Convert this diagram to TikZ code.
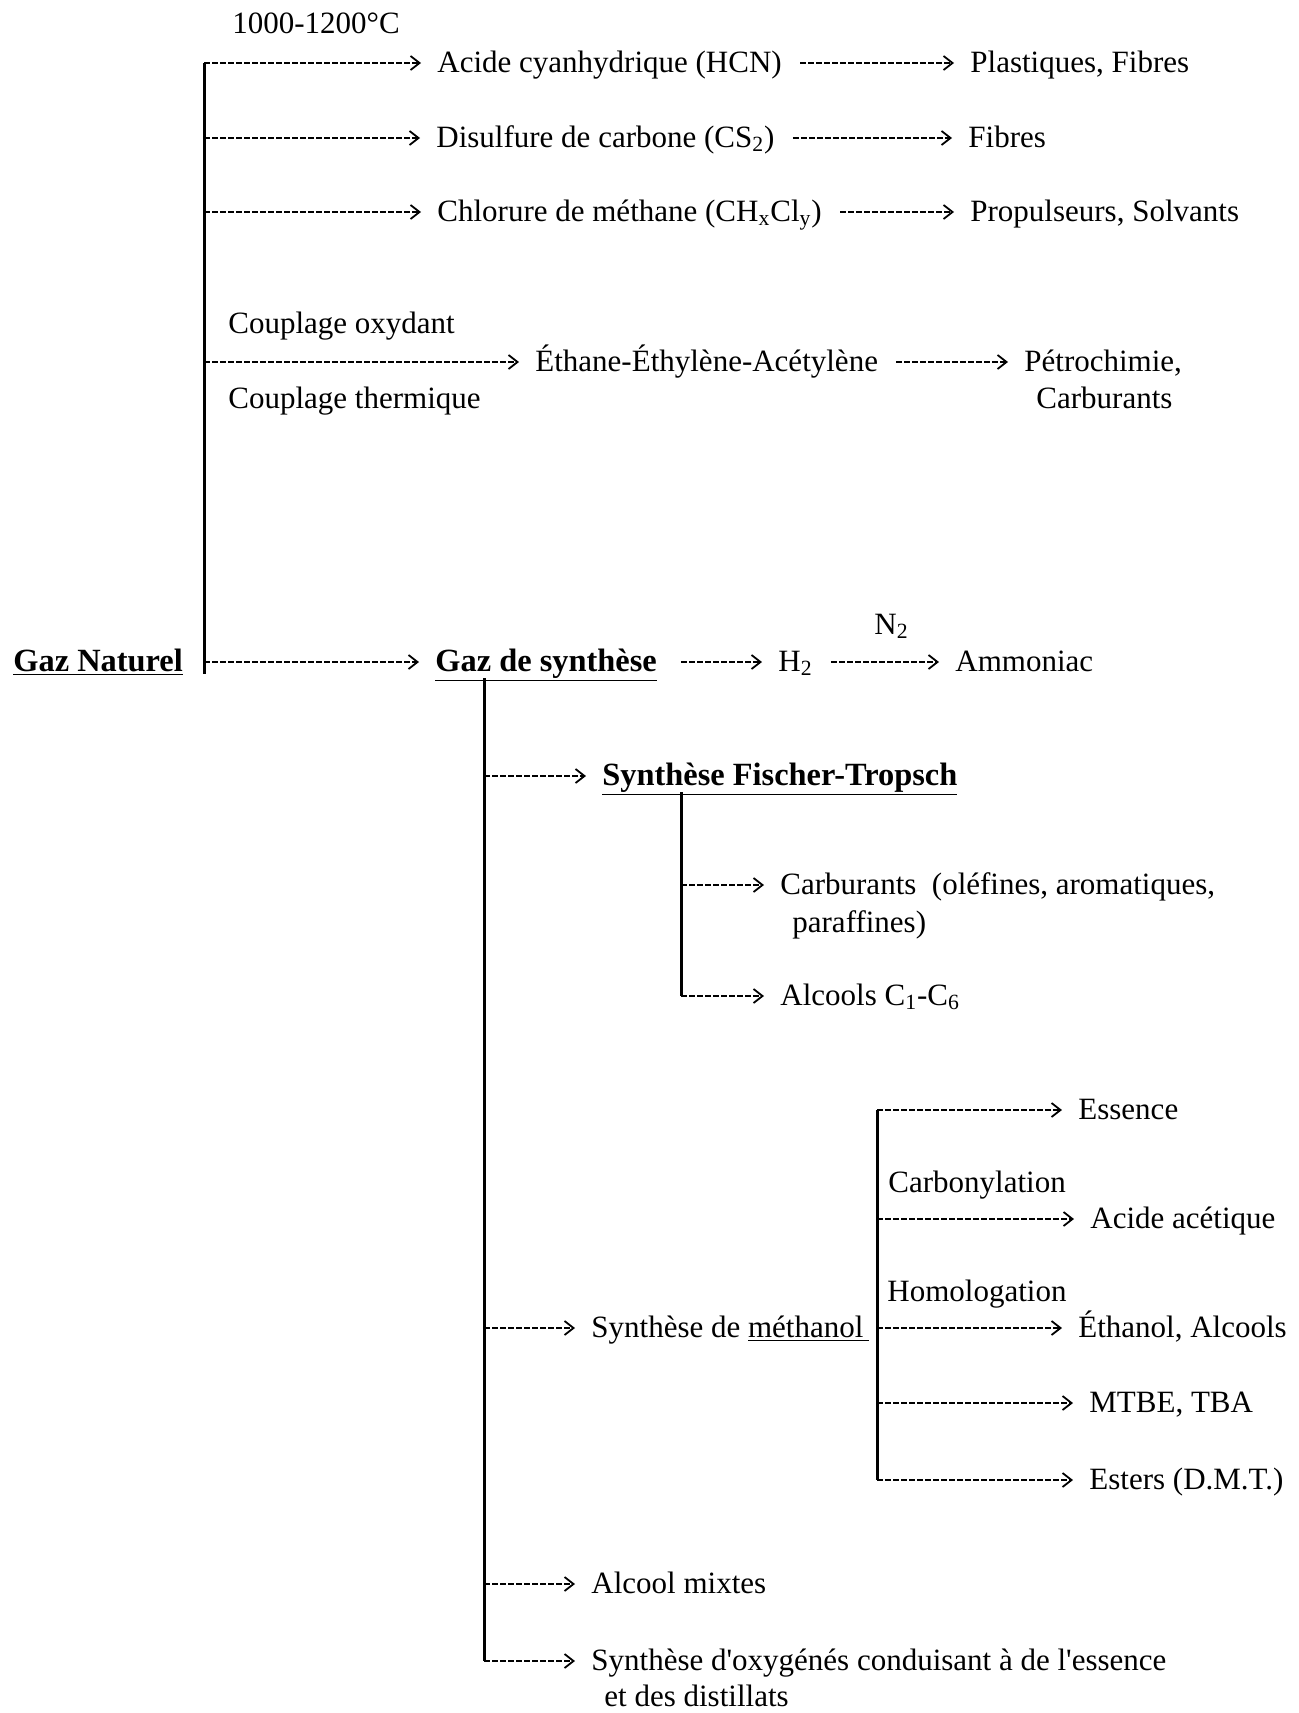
\documentclass[tikz,border=0pt]{standalone}
\usepackage{fontspec}
\setmainfont{Liberation Serif}
\usetikzlibrary{arrows.meta}
\begin{document}
\begin{tikzpicture}[x=0.5pt,y=-0.5pt,
  txt/.style={anchor=west,inner sep=0pt,font=\fontsize{15.5}{18}\selectfont,text height=11pt,text depth=2pt},
  boldtxt/.style={txt,font=\fontsize{16.2}{18}\selectfont\bfseries},
  trunk/.style={line width=1.5pt},
  link/.style={line width=0.8pt,dash pattern=on 3pt off 1pt,-{Straight Barb[length=4.5pt,width=7pt,line width=0.9pt]},shorten >=8pt},
  tl/.style={link,shorten <=9pt}]
\fill[white] (0,0) rectangle (1299,1713);
\useasboundingbox (0,0) rectangle (1299,1713);
% top group
\node[txt] (temp) at (232,24) {1000-1200°C};
\coordinate (a1) at (204,63);
\coordinate (a2) at (204,138);
\coordinate (a3) at (204,212);
\coordinate (a4) at (204,362);
\coordinate (a5) at (204,662);
\coordinate (abot) at (204,674);
\node[txt] (hcn) at (437,63) {Acide cyanhydrique (HCN)};
\node[txt] (plast) at (970,63) {Plastiques, Fibres};
\node[txt] (cs2) at (436,138) {Disulfure de carbone (CS\textsubscript{2})};
\node[txt] (fib) at (968,138) {Fibres};
\node[txt] (chx) at (437,212) {Chlorure de méthane (CH\textsubscript{x}Cl\textsubscript{y})};
\node[txt] (prop) at (970,212) {Propulseurs, Solvants};
\node[txt] (cox) at (228,324) {Couplage oxydant};
\node[txt] (cth) at (228,399) {Couplage thermique};
\node[txt] (eea) at (535,362) {Éthane-Éthylène-Acétylène};
\node[txt] (petro) at (1024,362) {Pétrochimie,};
\node[txt] (carbu) at (1036,399) {Carburants};
\node[boldtxt] (gn) at (13,662) {\underline{Gaz Naturel}};
\draw[trunk] (a1) -- (abot);
\draw[link] (a1) -- (hcn);
\draw[link] (a2) -- (cs2);
\draw[link] (a3) -- (chx);
\draw[link] (a4) -- (eea);
\draw[tl] (hcn) -- (plast);
\draw[tl] (cs2) -- (fib);
\draw[tl] (chx) -- (prop);
\draw[tl] (eea) -- (petro);
% syngas
\node[boldtxt] (gs) at (435,662) {\underline{Gaz de synthèse}};
\node[txt] (h2) at (778,662) {H\textsubscript{2}};
\node[txt] (n2) at (874,625) {N\textsubscript{2}};
\node[txt] (amm) at (955,662) {Ammoniac};
\draw[link] (a5) -- (gs);
\draw[tl,shorten <=12pt] (gs) -- (h2);
\draw[tl] (h2) -- (amm);
\coordinate (b0) at (484,678);
\coordinate (b1) at (484,776);
\coordinate (b2) at (484,1328);
\coordinate (b3) at (484,1584);
\coordinate (b4) at (484,1661);
\draw[trunk] (b0) -- (b4);
% Fischer-Tropsch
\node[boldtxt] (ft) at (602,776) {\underline{Synthèse Fischer-Tropsch}};
\draw[link] (b1) -- (ft);
\coordinate (c0) at (681,792);
\coordinate (c1) at (681,885);
\coordinate (c2) at (681,996);
\draw[trunk] (c0) -- (c2);
\node[txt] (carb) at (780,885) {Carburants~~(oléfines, aromatiques,};
\node[txt] (carb2) at (792,923) {paraffines)};
\node[txt] (alc) at (780,996) {Alcools C\textsubscript{1}-C\textsubscript{6}};
\draw[link] (c1) -- (carb);
\draw[link] (c2) -- (alc);
% methanol
\node[txt] (meth) at (591,1328) {Synthèse de \underline{méthanol\hspace{3pt}}};
\draw[link] (b2) -- (meth);
\coordinate (d0) at (877,1110);
\coordinate (d1) at (877,1219);
\coordinate (d2) at (877,1328);
\coordinate (d3) at (877,1403);
\coordinate (d4) at (877,1480);
\draw[trunk] (d0) -- (d4);
\node[txt] (ess) at (1078,1110) {Essence};
\node[txt] (carbo) at (888,1183) {Carbonylation};
\node[txt] (acet) at (1090,1219) {Acide acétique};
\node[txt] (homo) at (887,1292) {Homologation};
\node[txt] (eth) at (1078,1328) {Éthanol, Alcools};
\node[txt] (mtbe) at (1089,1403) {MTBE, TBA};
\node[txt] (est) at (1089,1480) {Esters (D.M.T.)};
\draw[link] (d0) -- (ess);
\draw[link] (d1) -- (acet);
\draw[link] (d2) -- (eth);
\draw[link] (d3) -- (mtbe);
\draw[link] (d4) -- (est);
% bottom
\node[txt] (alcm) at (591,1584) {Alcool mixtes};
\node[txt] (oxy) at (591,1661) {Synthèse d\textquotesingle oxygénés conduisant à de l\textquotesingle essence};
\node[txt] (oxy2) at (604,1697) {et des distillats};
\draw[link] (b3) -- (alcm);
\draw[link] (b4) -- (oxy);
\end{tikzpicture}
\end{document}
